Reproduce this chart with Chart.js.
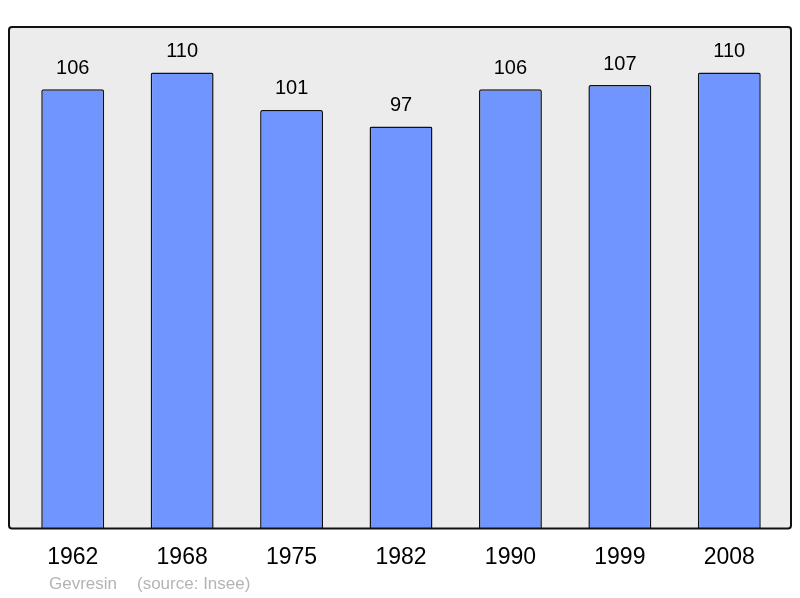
<!DOCTYPE html>
<html>
<head>
<meta charset="utf-8">
<script src="https://cdn.jsdelivr.net/npm/chart.js@4.4.0/dist/chart.umd.min.js"></script>
<style>
  html, body { margin: 0; padding: 0; background: #fff; }
  #wrap { width: 800px; height: 598px; }
</style>
</head>
<body>
<div id="wrap"><canvas id="popChart" width="800" height="598"></canvas></div>
<script>
const years = ["1962", "1968", "1975", "1982", "1990", "1999", "2008"];
const population = [106, 110, 101, 97, 106, 107, 110];
const footerName = "Gevresin";
const footerSource = "(source: Insee)";

const fontFamily = "'Liberation Sans', Arial, sans-serif";

// grey frame behind the bars, black outline on top
const framePlugin = {
    id: 'frame',
    beforeDatasetsDraw(chart) {
        const ctx = chart.ctx;
        const a = chart.chartArea;
        ctx.save();
        ctx.fillStyle = '#ececec';
        ctx.beginPath();
        ctx.roundRect(9, a.top, 782, a.bottom - a.top, 3);
        ctx.fill();
        ctx.restore();
    },
    afterDatasetsDraw(chart) {
        const ctx = chart.ctx;
        const a = chart.chartArea;
        ctx.save();
        ctx.strokeStyle = '#111';
        ctx.lineWidth = 2;
        ctx.beginPath();
        ctx.roundRect(9, a.top, 782, a.bottom - a.top, 3);
        ctx.stroke();

        // values above bars
        const meta = chart.getDatasetMeta(0);
        ctx.fillStyle = '#000';
        ctx.font = '20px ' + fontFamily;
        ctx.textAlign = 'center';
        ctx.textBaseline = 'middle';
        meta.data.forEach(function (bar, i) {
            ctx.fillText(String(population[i]), bar.x, bar.y - 21);
        });

        // footer
        ctx.fillStyle = '#b4b4b4';
        ctx.font = '17px ' + fontFamily;
        ctx.textAlign = 'left';
        ctx.fillText(footerName, 49, 584);
        ctx.fillText(footerSource, 137, 584);
        ctx.restore();
    }
};

new Chart(document.getElementById('popChart'), {
    type: 'bar',
    data: {
        labels: years,
        datasets: [{
            data: population,
            backgroundColor: '#7095ff',
            borderColor: '#111',
            borderWidth: 1.5,
            borderRadius: 2,
            borderSkipped: 'bottom',
            barPercentage: 0.575,
            categoryPercentage: 1
        }]
    },
    options: {
        responsive: false,
        animation: false,
        devicePixelRatio: 1,
        layout: { padding: { left: 18, right: 16, top: 27, bottom: 20 } },
        plugins: {
            legend: { display: false },
            tooltip: { enabled: false }
        },
        scales: {
            x: {
                grid: { display: false },
                border: { display: false },
                ticks: {
                    color: '#000',
                    font: { family: fontFamily, size: 23 },
                    padding: 7,
                    maxRotation: 0
                }
            },
            y: {
                display: false,
                min: 0,
                max: 121
            }
        }
    },
    plugins: [framePlugin]
});
</script>
</body>
</html>
